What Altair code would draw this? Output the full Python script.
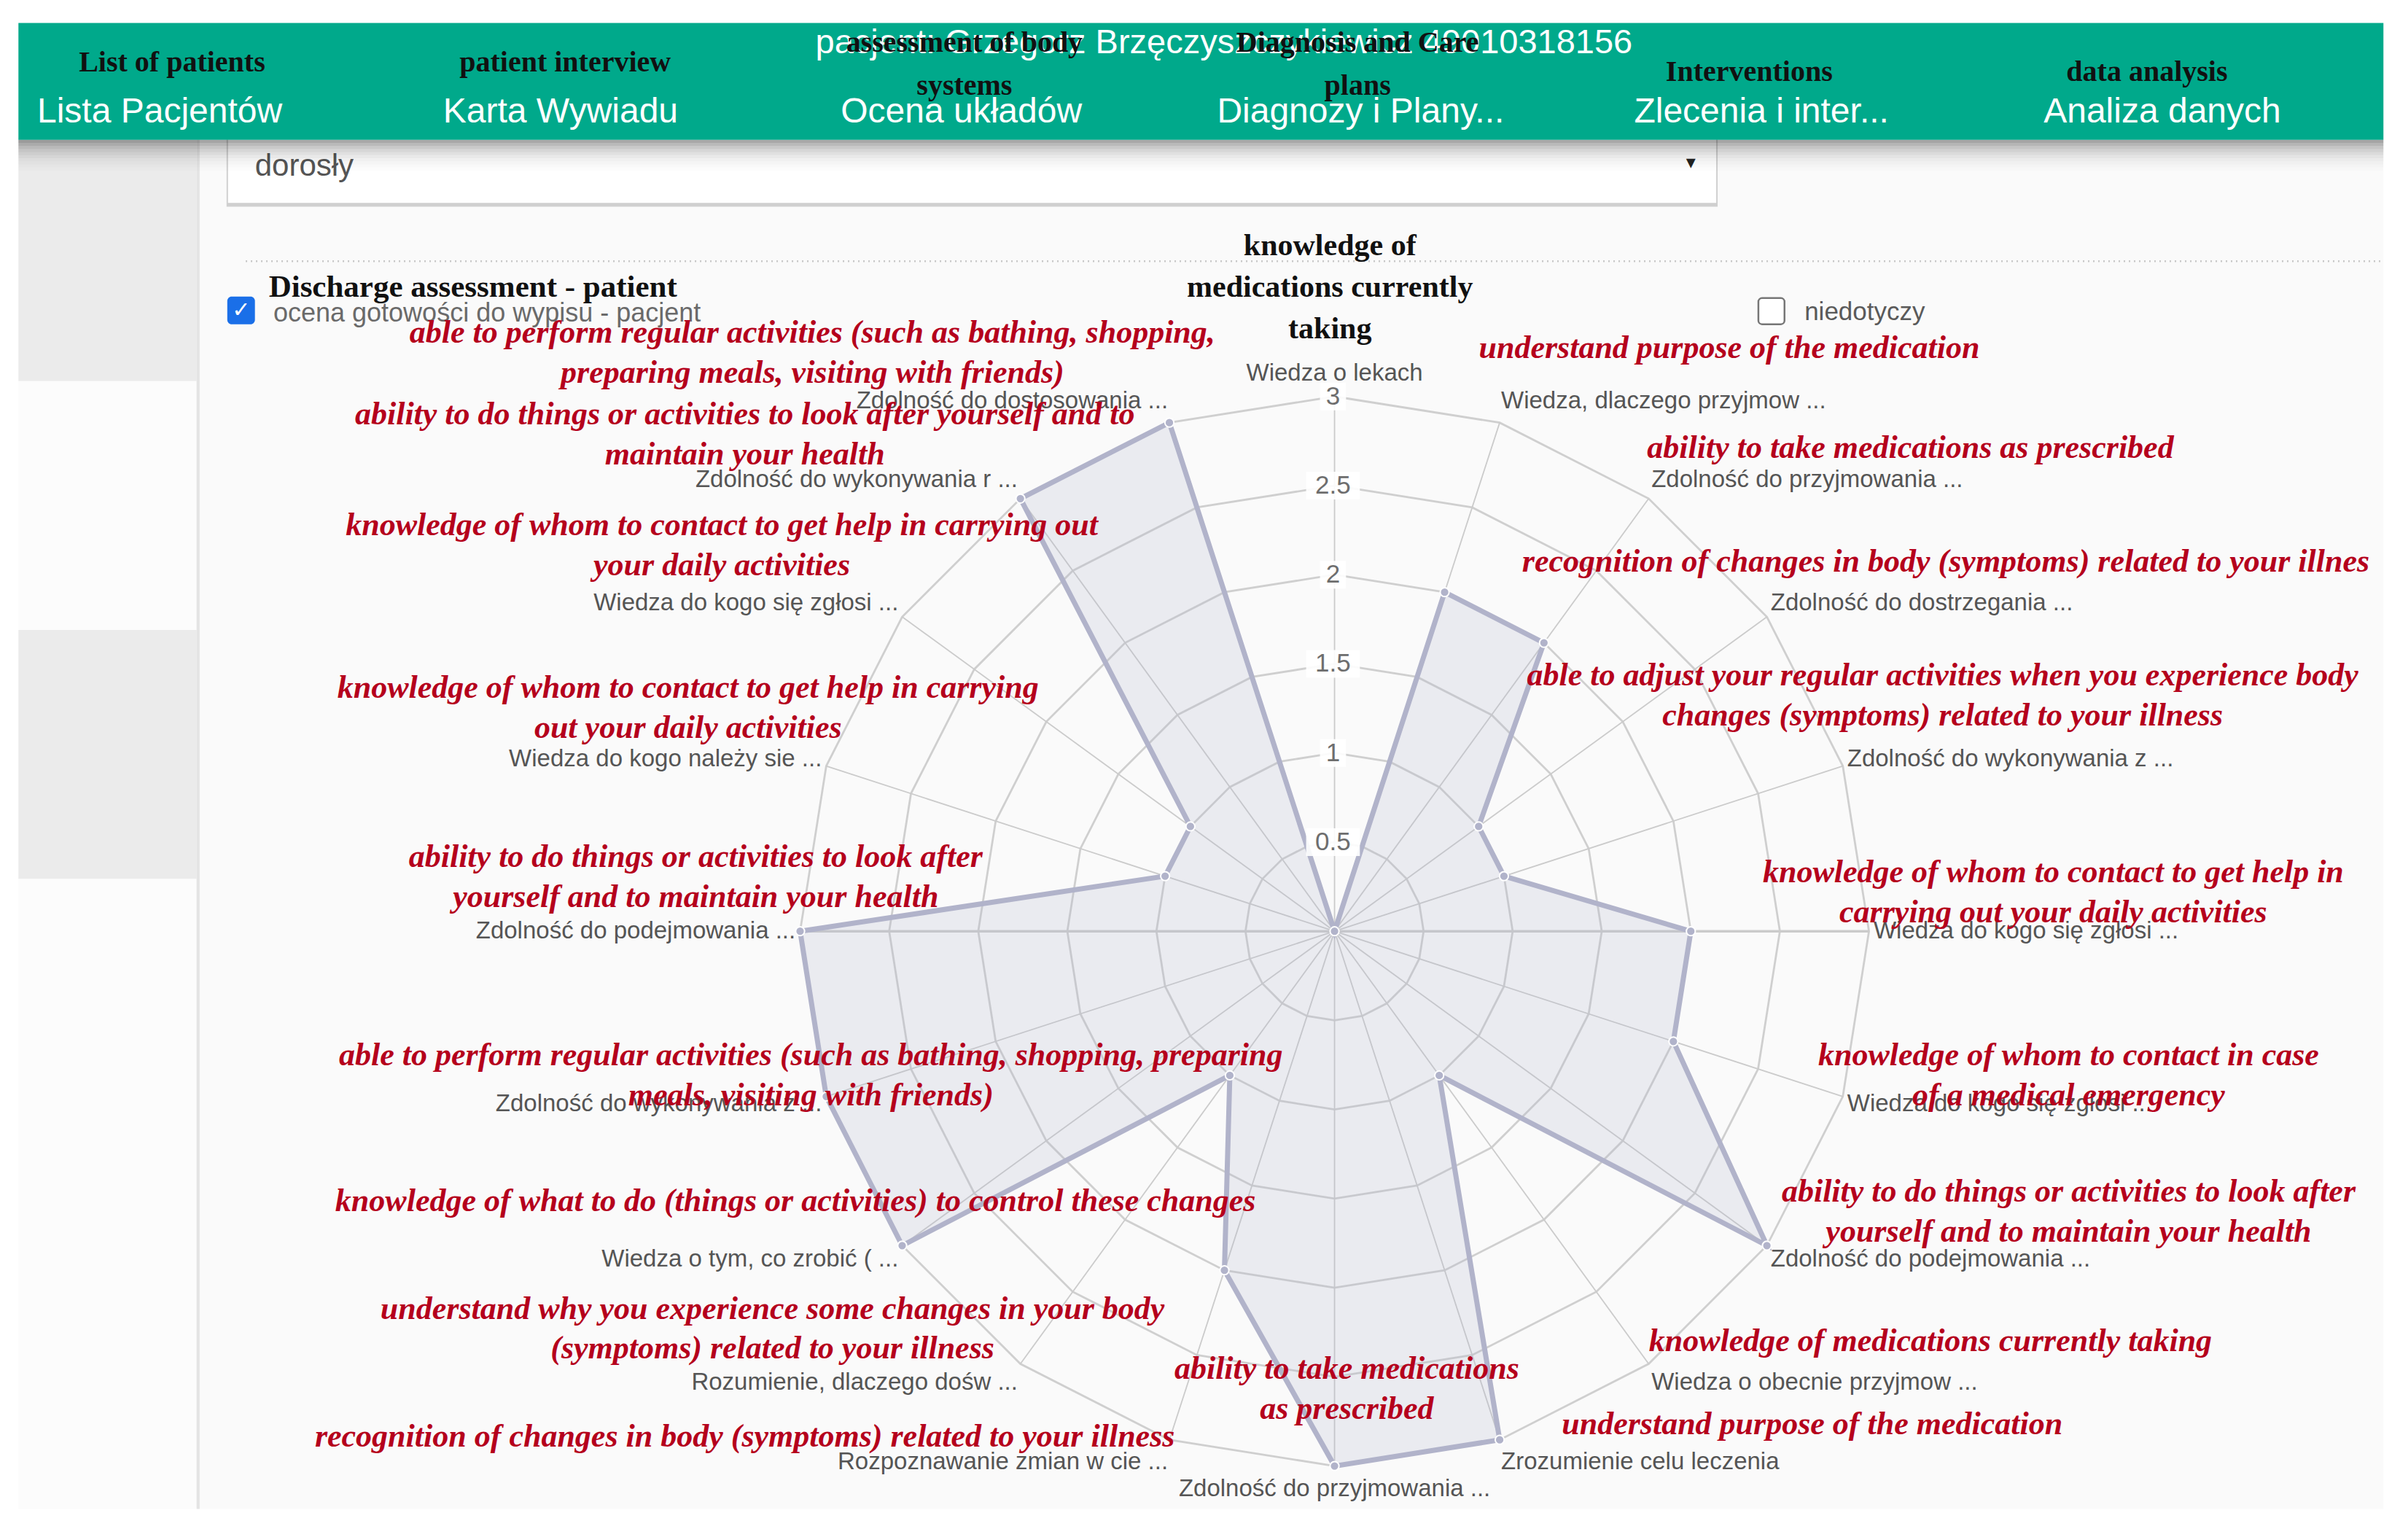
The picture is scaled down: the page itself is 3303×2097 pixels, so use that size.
import altair as alt
import pandas as pd

# ---------------- data ----------------
axis_labels = [
    "Wiedza o lekach",
    "Wiedza, dlaczego przyjmow ...",
    "Zdolność do przyjmowania  ...",
    "Zdolność do dostrzegania  ...",
    "Zdolność do wykonywania z ...",
    "Wiedza do kogo się zgłosi ...",
    "Wiedza do kogo się zgłosi ...",
    "Zdolność do podejmowania  ...",
    "Wiedza o obecnie przyjmow ...",
    "Zrozumienie celu leczenia",
    "Zdolność do przyjmowania  ...",
    "Rozpoznawanie zmian w cie ...",
    "Rozumienie, dlaczego dośw ...",
    "Wiedza o tym, co zrobić ( ...",
    "Zdolność do wykonywania z ...",
    "Zdolność do podejmowania  ...",
    "Wiedza do kogo należy sie ...",
    "Wiedza do kogo się zgłosi ...",
    "Zdolność do wykonywania r ...",
    "Zdolność do dostosowania  ...",
]
scores = [0, 2, 2, 1, 1, 2, 2, 3, 1, 3, 3, 2, 1, 3, 3, 3, 1, 1, 3, 3]
ring_levels = [0.5, 1, 1.5, 2, 2.5, 3]
tick_labels = ["0.5", "1", "1.5", "2", "2.5", "3"]

translations = [
    ["understand purpose of the medication"],
    ["ability to take medications as prescribed"],
    ["recognition of changes in body (symptoms) related to your illnes"],
    ["able to adjust your regular activities when you experience body", "changes (symptoms) related to your illness"],
    ["knowledge of whom to contact to get help in", "carrying out your daily activities"],
    ["knowledge of whom to contact in case", "of a medical emergency"],
    ["ability to do things or activities to look after", "yourself and to maintain your health"],
    ["knowledge of medications currently taking"],
    ["understand purpose of the medication"],
    ["ability to take medications", "as prescribed"],
    ["recognition of changes in body (symptoms) related to your illness"],
    ["understand why you experience some changes in your body", "(symptoms) related to your illness"],
    ["knowledge of what to do (things or activities) to control these changes"],
    ["able to perform regular activities (such as bathing, shopping, preparing", "meals, visiting with friends)"],
    ["ability to do things or activities to look after", "yourself and to maintain your health"],
    ["knowledge of whom to contact to get help in carrying", "out your daily activities"],
    ["knowledge of whom to contact to get help in carrying out", "your daily activities"],
    ["ability to do things or activities to look after yourself and to", "maintain your health"],
    ["able to perform regular activities (such as bathing, shopping,", "preparing meals, visiting with friends)"],
]

nav_pl = ["Lista Pacjentów", "Karta Wywiadu", "Ocena układów", "Diagnozy i Plany...", "Zlecenia i inter...", "Analiza danych"]
nav_en = [["List of patients"], ["patient interview"], ["assessment of body", "systems"],
          ["Diagnosis and Care", "plans"], ["Interventions"], ["data analysis"]]
patient_text = "pacjent: Grzegorz Brzęczyszczykiewicz 49010318156"
title_lines = ["knowledge of", "medications currently", "taking"]
section_en = "Discharge assessment - patient"
section_pl = "ocena gotowości do wypisu - pacjent"
na_label = "niedotyczy"
select_value = "dorosły"

# ---------------- layout (reference pixel grid, 1568 x 995) ----------------
CX, CY, RU = 869, 606, 116.0        # radar centre and pixels per score unit
N = len(axis_labels)
trans_x = [1126, 1244, 1267, 1265, 1337, 1347, 1347, 1257, 1180, 877, 485, 503, 518, 528, 453, 448, 470, 485, 529]
trans_y = [227, 292, 366, 440, 568, 687, 776, 873, 927, 891, 935, 852, 782, 687, 558, 448, 342, 270, 217]
LINE_STEP = 26
nav_pl_x = [104, 365, 626, 886, 1147, 1408]
nav_en_x = [112, 368, 628, 884, 1139, 1398]
nav_en_y = [41, 41, 28, 28, 47, 47]

XS = alt.Scale(domain=[0, 1568], range=[-8, 3295], nice=False, zero=False)
YS = alt.Scale(domain=[0, 995], range=[-8, 2089], nice=False, zero=False)


def X(f="x"):
    return alt.X(f"{f}:Q", scale=XS, axis=None)


def Y(f="y"):
    return alt.Y(f"{f}:Q", scale=YS, axis=None)


def rects(rows, **mark):
    df = pd.DataFrame(rows, columns=["x", "x2", "y", "y2"])
    return alt.Chart(df).mark_rect(**mark).encode(
        x=X(), x2=alt.X2("x2:Q"), y=Y(), y2=alt.Y2("y2:Q"))


def texts(rows, **mark):
    df = pd.DataFrame(rows, columns=["x", "y", "t"])
    return alt.Chart(df).mark_text(**mark).encode(x=X(), y=Y(), text="t:N")


layers = []
# page backgrounds
layers.append(rects([[130, 1552, 90, 982]], color="#fafafa"))
layers.append(rects([[12, 128, 90, 248], [12, 128, 410, 572]], color="#ebebeb"))
layers.append(rects([[12, 128, 248, 410], [12, 128, 572, 982]], color="#fcfcfc"))
layers.append(rects([[128, 130, 90, 982]], color="#e4e4e4"))
# select box
layers.append(rects([[148, 1118, 88, 134]], fill="white", stroke="#d0d0d0", strokeWidth=2))
layers.append(rects([[148, 1118, 132, 134]], color="#cfcfcf"))
layers.append(texts([[166, 108, select_value]], align="left", baseline="middle",
                    font="Liberation Sans", fontSize=42, color="#555555"))
layers.append(texts([[1101, 106, "▾"]], align="center", baseline="middle",
                    font="DejaVu Sans", fontSize=26, color="#222222"))
# shadow under the header bar
shadow_alpha = [0.34, 0.27, 0.21, 0.16, 0.12, 0.085, 0.06, 0.04, 0.025, 0.012]
for k, a in enumerate(shadow_alpha):
    layers.append(rects([[12, 1552, 91 + 2 * k, 93 + 2 * k]], color="#000000", opacity=a))
# header bar
layers.append(rects([[12, 1552, 15, 91]], color="#00a98b"))
layers.append(texts([[797, 28, patient_text]], align="center", baseline="middle",
                    font="Liberation Sans", fontSize=47, color="white"))
layers.append(texts([[x, 73, t] for x, t in zip(nav_pl_x, nav_pl)], align="center", baseline="middle",
                    font="Liberation Sans", fontSize=48, color="white"))
en_rows = []
for x, y0, lines in zip(nav_en_x, nav_en_y, nav_en):
    for k, line in enumerate(lines):
        en_rows.append([x, y0 + 28 * k, line])
layers.append(texts(en_rows, align="center", baseline="middle", font="Liberation Serif",
                    fontWeight="bold", fontSize=40, color="#111111"))

# dotted separator
layers.append(alt.Chart(pd.DataFrame({"x": [160], "x2": [1552], "y": [170]})).mark_rule(
    color="#c8c8c8", strokeWidth=2.5, strokeDash=[2, 5]).encode(x=X(), x2=alt.X2("x2:Q"), y=Y()))

# checkboxes and section texts
layers.append(rects([[148, 166, 193, 211]], color="#1a6fe8", cornerRadius=6))
layers.append(texts([[157, 202, "✓"]], align="center", baseline="middle", font="DejaVu Sans",
                    fontWeight="bold", fontSize=30, color="white"))
layers.append(rects([[1145, 1162, 194, 211]], fill="white", stroke="#767676", strokeWidth=2.5, cornerRadius=5))
layers.append(texts([[175, 187, section_en]], align="left", baseline="middle", font="Liberation Serif",
                    fontWeight="bold", fontSize=43, color="#111111"))
layers.append(texts([[178, 204, section_pl]], align="left", baseline="middle", font="Liberation Sans",
                    fontSize=36, color="#6a6a6a"))
layers.append(texts([[1175, 203, na_label]], align="left", baseline="middle", font="Liberation Sans",
                    fontSize=35, color="#5a5a5a"))
layers.append(texts([[866, 160 + 27 * k, t] for k, t in enumerate(title_lines)], align="center",
                    baseline="middle", font="Liberation Serif", fontWeight="bold", fontSize=42, color="#111111"))

# ---------------- radar ----------------
ang = "datum.i * 2 * PI / %d" % N
ring_df = pd.DataFrame([(lv, i) for lv in ring_levels for i in range(N)], columns=["v", "i"])
rings = alt.Chart(ring_df).transform_calculate(
    x=f"{CX} + {RU} * datum.v * sin({ang})",
    y=f"{CY} - {RU} * datum.v * cos({ang})",
).mark_line(interpolate="linear-closed", color="#cfcfcf", strokeWidth=2.8).encode(
    x=X(), y=Y(), detail="v:N", order="i:Q")
layers.append(rings)

spoke_df = pd.DataFrame({"i": list(range(N)), "v": [max(ring_levels)] * N})
spokes = alt.Chart(spoke_df).transform_calculate(
    x0=f"{CX}", y0=f"{CY}",
    x=f"{CX} + {RU} * datum.v * sin({ang})",
    y=f"{CY} - {RU} * datum.v * cos({ang})",
    w="datum.i % 10 == 5 ? 3.5 : 1.8",
).mark_rule(color="#cbcbcb").encode(
    x=X("x0"), y=Y("y0"), x2=alt.X2("x:Q"), y2=alt.Y2("y:Q"),
    strokeWidth=alt.StrokeWidth("w:Q", scale=None))
layers.append(spokes)

data_df = pd.DataFrame({"i": list(range(N)), "v": scores, "label": axis_labels})
base = alt.Chart(data_df).transform_calculate(
    x=f"{CX} + {RU} * datum.v * sin({ang})",
    y=f"{CY} - {RU} * datum.v * cos({ang})",
)
layers.append(base.mark_line(interpolate="linear-closed", stroke="#b1b3ca", strokeWidth=7,
                             fill="#b3b5cb", fillOpacity=0.22).encode(x=X(), y=Y(), order="i:Q"))
layers.append(base.mark_circle(size=150, color="#b1b3ca", opacity=1, stroke="white",
                               strokeWidth=2).encode(x=X(), y=Y()))

# tick labels on the vertical axis
tick_df = pd.DataFrame({"v": ring_levels, "t": tick_labels})
tick_base = alt.Chart(tick_df).transform_calculate(
    x=f"{CX - 1}", y=f"{CY} - {RU} * datum.v",
    xa=f"{CX - 1} - (4 + 4.5 * length(datum.t))", xb=f"{CX - 1} + (4 + 4.5 * length(datum.t))",
    ya=f"{CY} - {RU} * datum.v - 9", yb=f"{CY} - {RU} * datum.v + 9",
)
layers.append(tick_base.mark_rect(color="white", opacity=0.9).encode(
    x=X("xa"), x2=alt.X2("xb:Q"), y=Y("ya"), y2=alt.Y2("yb:Q")))
layers.append(tick_base.mark_text(font="Liberation Sans", fontSize=35, color="#6e6e6e",
                                  baseline="middle", align="center").encode(x=X(), y=Y(), text="t:N"))

# category labels
lab = base.transform_calculate(
    s=f"sin({ang})",
    lx=f"{CX} + {RU * 3 + 3} * sin({ang})",
    ly=f"{CY} - {RU * 3 + 15} * cos({ang})",
)
for side, cond in (("left", "datum.s > 0.01"), ("right", "datum.s < -0.01"),
                   ("center", "abs(datum.s) <= 0.01")):
    layers.append(lab.transform_filter(cond).mark_text(
        align=side, baseline="middle", font="Liberation Sans", fontSize=33, color="#555555").encode(
        x=X("lx"), y=Y("ly"), text="label:N"))

# red translation overlays
tr_rows = []
for x, y0, lines in zip(trans_x, trans_y, translations):
    for k, line in enumerate(lines):
        tr_rows.append([x, y0 + LINE_STEP * k, line])
layers.append(texts(tr_rows, align="center", baseline="middle", font="Liberation Serif",
                    fontStyle="italic", fontWeight="bold", fontSize=44, color="#b5001c"))

chart = alt.layer(*layers).properties(
    width=3280, height=2070, padding=0,
    autosize=alt.AutoSizeParams(type="none"), background="white",
).configure_view(strokeWidth=0)

chart.save("out.html", embed_options={"renderer": "svg", "actions": False})
